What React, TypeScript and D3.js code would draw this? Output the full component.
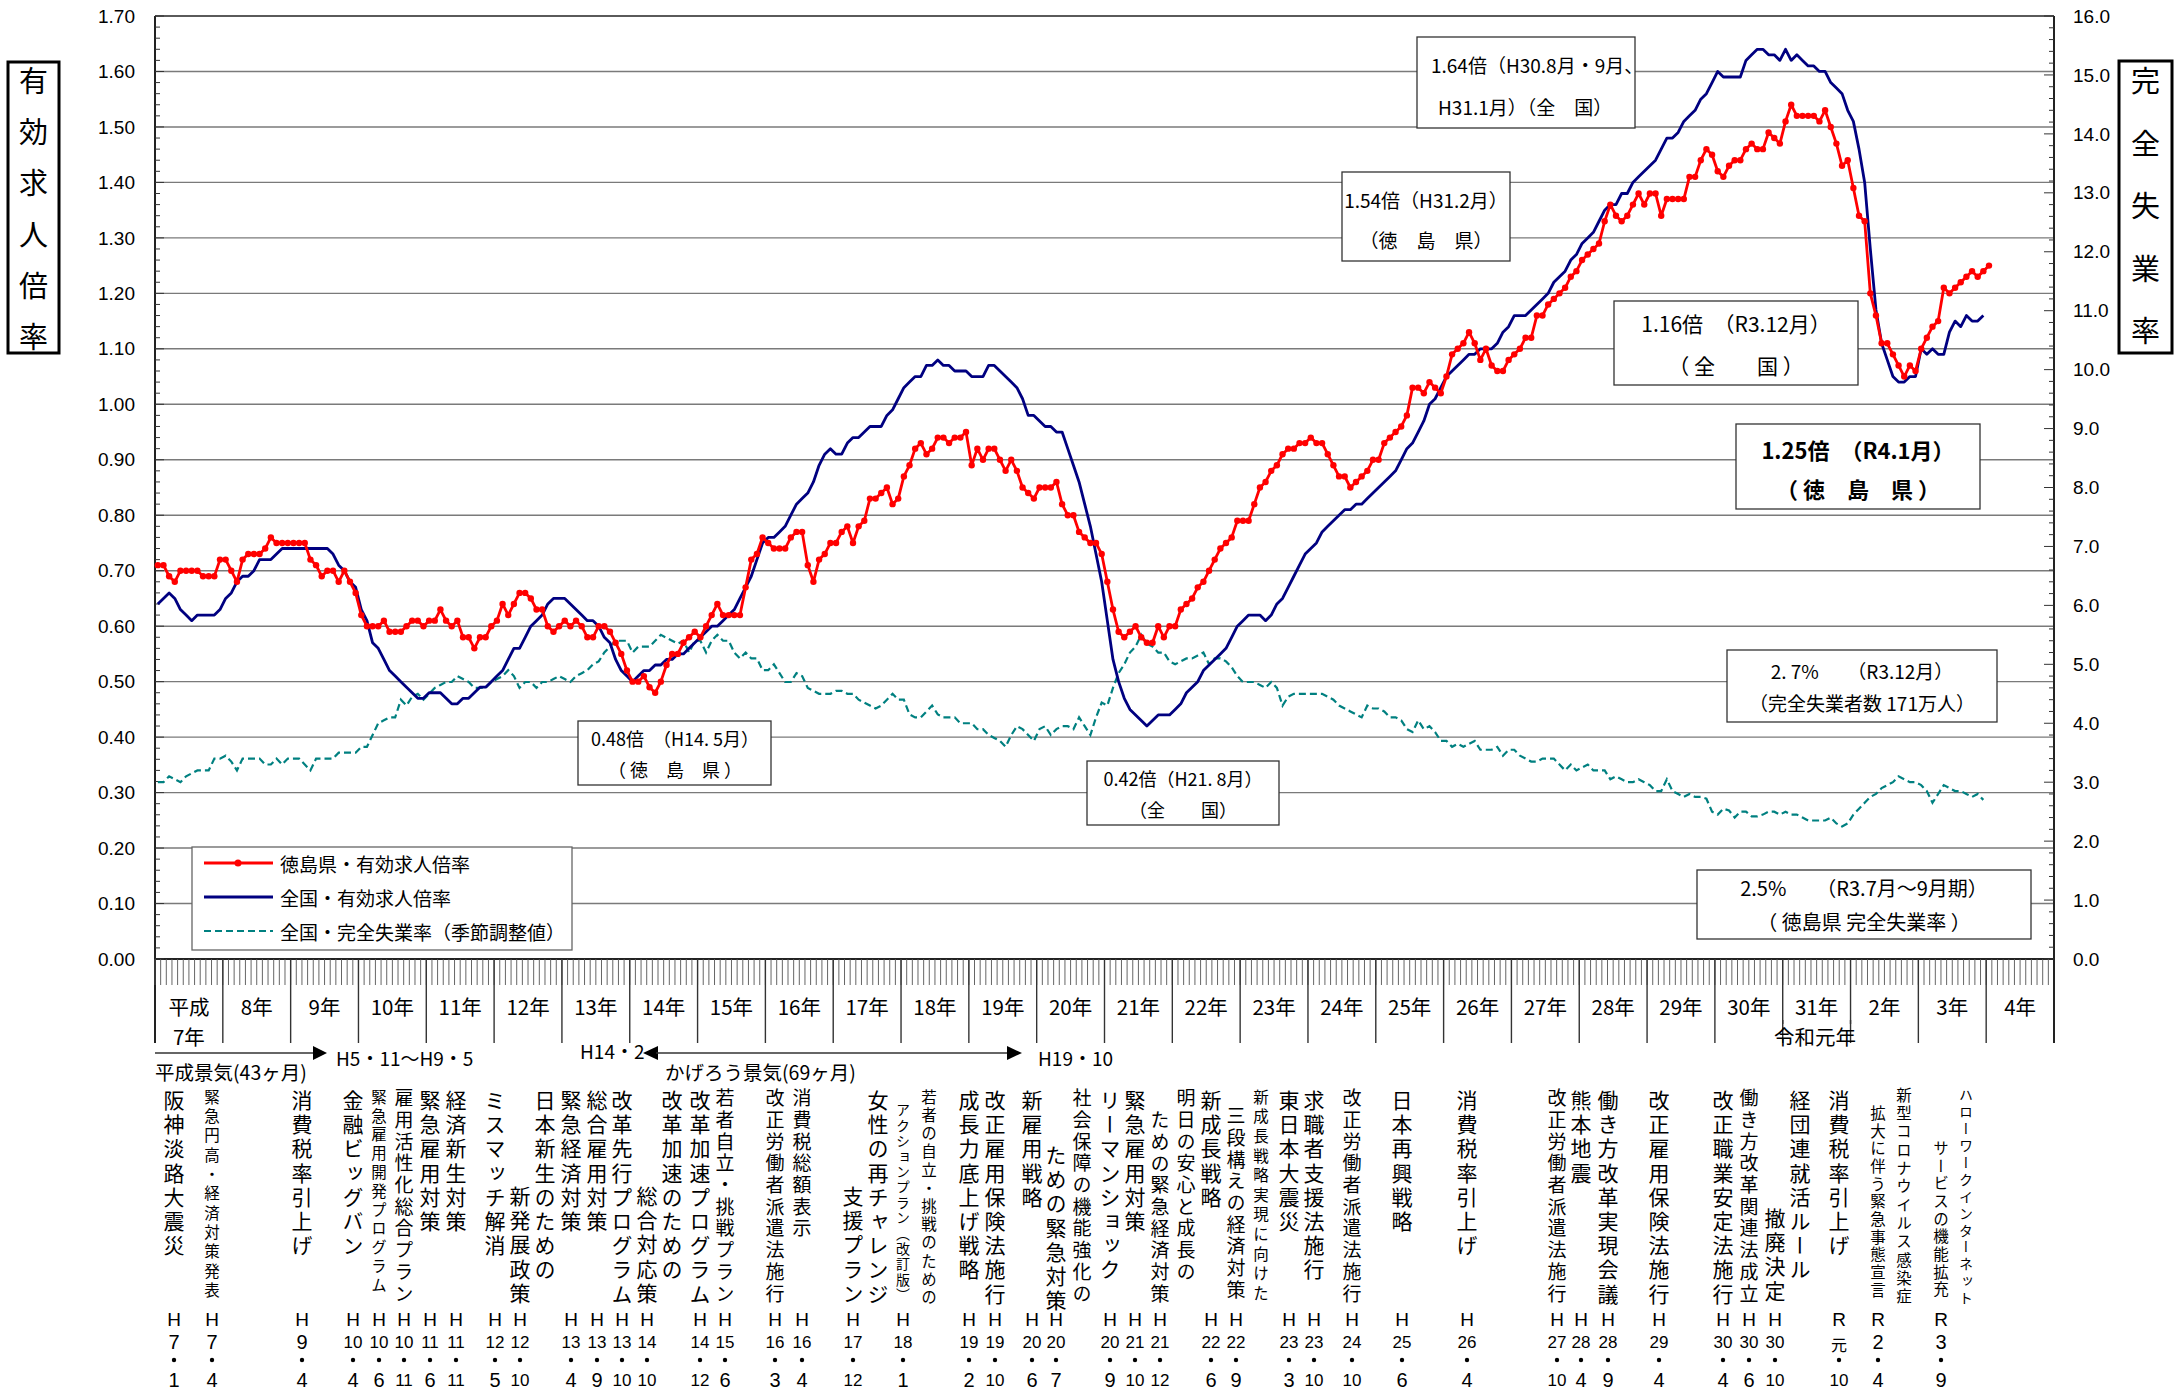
import React from 'react';
import * as d3 from 'd3';

// 有効求人倍率・完全失業率の推移 (H7.1 〜 R4.1)

const W = 2178;
const H = 1394;
const startYear = 1995;

// monthly categories, Jan 1995 .. Dec 2022
const months = d3.range(336).map((i) => `${startYear + Math.floor(i / 12)}-${String((i % 12) + 1).padStart(2, '0')}`);

// 徳島県・有効求人倍率 (1995.1 - 2022.1)
const tokushimaRatio = [
  0.71, 0.71, 0.69, 0.68, 0.70, 0.70, 0.70, 0.70, 0.69, 0.69, 0.69, 0.72,
  0.72, 0.70, 0.68, 0.72, 0.73, 0.73, 0.73, 0.74, 0.76, 0.75, 0.75, 0.75,
  0.75, 0.75, 0.75, 0.72, 0.71, 0.69, 0.70, 0.70, 0.68, 0.70, 0.68, 0.66,
  0.62, 0.60, 0.60, 0.60, 0.61, 0.59, 0.59, 0.59, 0.60, 0.61, 0.61, 0.60,
  0.61, 0.61, 0.63, 0.61, 0.60, 0.61, 0.58, 0.58, 0.56, 0.58, 0.58, 0.60,
  0.61, 0.64, 0.62, 0.64, 0.66, 0.66, 0.65, 0.63, 0.63, 0.60, 0.59, 0.60,
  0.61, 0.60, 0.61, 0.60, 0.58, 0.58, 0.60, 0.60, 0.59, 0.57, 0.55, 0.52,
  0.50, 0.50, 0.51, 0.49, 0.48, 0.50, 0.53, 0.55, 0.55, 0.57, 0.58, 0.59,
  0.58, 0.60, 0.62, 0.64, 0.62, 0.62, 0.62, 0.62, 0.67, 0.72, 0.73, 0.76,
  0.75, 0.74, 0.74, 0.74, 0.76, 0.77, 0.77, 0.71, 0.68, 0.72, 0.73, 0.75,
  0.75, 0.77, 0.78, 0.75, 0.78, 0.79, 0.83, 0.83, 0.84, 0.85, 0.82, 0.83,
  0.87, 0.89, 0.92, 0.93, 0.91, 0.92, 0.94, 0.94, 0.93, 0.94, 0.94, 0.95,
  0.89, 0.92, 0.90, 0.92, 0.92, 0.90, 0.88, 0.90, 0.88, 0.85, 0.84, 0.83,
  0.85, 0.85, 0.85, 0.86, 0.82, 0.80, 0.80, 0.77, 0.76, 0.75, 0.75, 0.73,
  0.68, 0.63, 0.59, 0.58, 0.59, 0.60, 0.58, 0.57, 0.57, 0.60, 0.58, 0.60,
  0.60, 0.63, 0.64, 0.65, 0.67, 0.68, 0.70, 0.72, 0.74, 0.75, 0.76, 0.79,
  0.79, 0.79, 0.82, 0.85, 0.86, 0.88, 0.89, 0.91, 0.92, 0.92, 0.93, 0.93,
  0.94, 0.93, 0.93, 0.91, 0.89, 0.87, 0.87, 0.85, 0.86, 0.87, 0.88, 0.90,
  0.90, 0.93, 0.94, 0.95, 0.96, 0.98, 1.03, 1.03, 1.02, 1.04, 1.03, 1.02,
  1.05, 1.09, 1.10, 1.11, 1.13, 1.11, 1.08, 1.10, 1.07, 1.06, 1.06, 1.08,
  1.09, 1.10, 1.12, 1.12, 1.16, 1.16, 1.18, 1.19, 1.20, 1.21, 1.23, 1.24,
  1.26, 1.27, 1.28, 1.29, 1.33, 1.36, 1.34, 1.33, 1.34, 1.36, 1.38, 1.36,
  1.38, 1.38, 1.34, 1.37, 1.37, 1.37, 1.37, 1.41, 1.41, 1.44, 1.46, 1.45,
  1.42, 1.41, 1.43, 1.44, 1.44, 1.46, 1.47, 1.46, 1.46, 1.49, 1.48, 1.47,
  1.51, 1.54, 1.52, 1.52, 1.52, 1.52, 1.51, 1.53, 1.50, 1.47, 1.43, 1.44,
  1.39, 1.34, 1.33, 1.20, 1.16, 1.11, 1.11, 1.09, 1.07, 1.05, 1.07, 1.06,
  1.10, 1.12, 1.14, 1.15, 1.21, 1.20, 1.21, 1.22, 1.23, 1.24, 1.23, 1.24,
  1.25,
];

// 全国・有効求人倍率 (1995.1 - 2021.12)
const nationalRatio = [
  0.64, 0.65, 0.66, 0.65, 0.63, 0.62, 0.61, 0.62, 0.62, 0.62, 0.62, 0.63,
  0.65, 0.66, 0.68, 0.69, 0.69, 0.70, 0.72, 0.72, 0.72, 0.73, 0.74, 0.74,
  0.74, 0.74, 0.74, 0.74, 0.74, 0.74, 0.74, 0.73, 0.71, 0.70, 0.68, 0.67,
  0.63, 0.61, 0.57, 0.56, 0.54, 0.52, 0.51, 0.50, 0.49, 0.48, 0.47, 0.47,
  0.48, 0.48, 0.48, 0.47, 0.46, 0.46, 0.47, 0.47, 0.48, 0.49, 0.49, 0.50,
  0.51, 0.52, 0.54, 0.56, 0.56, 0.58, 0.60, 0.61, 0.62, 0.64, 0.65, 0.65,
  0.65, 0.64, 0.63, 0.62, 0.61, 0.61, 0.60, 0.58, 0.57, 0.54, 0.52, 0.51,
  0.50, 0.51, 0.52, 0.52, 0.53, 0.53, 0.54, 0.54, 0.55, 0.55, 0.56, 0.57,
  0.58, 0.59, 0.60, 0.60, 0.61, 0.62, 0.63, 0.65, 0.67, 0.69, 0.72, 0.75,
  0.76, 0.76, 0.77, 0.78, 0.80, 0.82, 0.83, 0.84, 0.86, 0.89, 0.91, 0.92,
  0.91, 0.91, 0.93, 0.94, 0.94, 0.95, 0.96, 0.96, 0.96, 0.98, 0.99, 1.01,
  1.03, 1.04, 1.05, 1.05, 1.07, 1.07, 1.08, 1.07, 1.07, 1.06, 1.06, 1.06,
  1.05, 1.05, 1.05, 1.07, 1.07, 1.06, 1.05, 1.04, 1.03, 1.01, 0.98, 0.98,
  0.97, 0.96, 0.96, 0.95, 0.95, 0.92, 0.89, 0.86, 0.82, 0.78, 0.73, 0.68,
  0.61, 0.54, 0.50, 0.47, 0.45, 0.44, 0.43, 0.42, 0.43, 0.44, 0.44, 0.44,
  0.45, 0.46, 0.48, 0.49, 0.50, 0.52, 0.53, 0.54, 0.55, 0.56, 0.58, 0.60,
  0.61, 0.62, 0.62, 0.62, 0.61, 0.62, 0.64, 0.65, 0.67, 0.69, 0.71, 0.73,
  0.74, 0.75, 0.77, 0.78, 0.79, 0.80, 0.81, 0.81, 0.82, 0.82, 0.83, 0.84,
  0.85, 0.86, 0.87, 0.88, 0.90, 0.92, 0.93, 0.95, 0.97, 1.00, 1.01, 1.03,
  1.05, 1.06, 1.07, 1.08, 1.09, 1.09, 1.10, 1.10, 1.10, 1.11, 1.13, 1.14,
  1.16, 1.16, 1.16, 1.17, 1.18, 1.19, 1.20, 1.22, 1.23, 1.24, 1.26, 1.27,
  1.29, 1.30, 1.31, 1.33, 1.35, 1.36, 1.36, 1.38, 1.38, 1.40, 1.41, 1.42,
  1.43, 1.44, 1.46, 1.48, 1.48, 1.49, 1.51, 1.52, 1.53, 1.55, 1.56, 1.58,
  1.60, 1.59, 1.59, 1.59, 1.59, 1.62, 1.63, 1.64, 1.64, 1.63, 1.63, 1.62,
  1.64, 1.62, 1.63, 1.62, 1.61, 1.61, 1.60, 1.60, 1.58, 1.57, 1.56, 1.53,
  1.51, 1.46, 1.40, 1.28, 1.17, 1.11, 1.08, 1.05, 1.04, 1.04, 1.05, 1.05,
  1.10, 1.09, 1.10, 1.09, 1.09, 1.13, 1.15, 1.14, 1.16, 1.15, 1.15, 1.16,
];

// 全国・完全失業率 季節調整値 (1995.1 - 2021.12), right axis
const unemploymentRate = [
  3.0, 3.0, 3.1, 3.05, 3.0, 3.1, 3.15, 3.2, 3.2, 3.2, 3.4, 3.4,
  3.45, 3.35, 3.2, 3.4, 3.4, 3.4, 3.4, 3.3, 3.3, 3.4, 3.3, 3.4,
  3.4, 3.4, 3.3, 3.2, 3.4, 3.4, 3.4, 3.4, 3.5, 3.5, 3.5, 3.5,
  3.6, 3.6, 3.8, 4.0, 4.05, 4.1, 4.1, 4.4, 4.3, 4.45, 4.5, 4.4,
  4.5, 4.6, 4.65, 4.7, 4.7, 4.8, 4.75, 4.7, 4.6, 4.6, 4.6, 4.7,
  4.75, 4.8, 4.9, 4.8, 4.6, 4.7, 4.7, 4.6, 4.7, 4.7, 4.75, 4.8,
  4.75, 4.7, 4.8, 4.85, 4.9, 5.0, 5.05, 5.2, 5.3, 5.4, 5.4, 5.4,
  5.2, 5.3, 5.3, 5.3, 5.4, 5.5, 5.45, 5.4, 5.35, 5.4, 5.2, 5.4,
  5.4, 5.2, 5.4, 5.5, 5.4, 5.4, 5.2, 5.1, 5.2, 5.1, 5.1, 4.9,
  4.9, 5.0, 4.85, 4.7, 4.7, 4.85, 4.8, 4.6, 4.55, 4.5, 4.5, 4.5,
  4.55, 4.55, 4.5, 4.5, 4.4, 4.35, 4.3, 4.25, 4.3, 4.4, 4.5, 4.4,
  4.4, 4.15, 4.1, 4.1, 4.2, 4.3, 4.15, 4.1, 4.1, 4.1, 4.0, 4.0,
  4.0, 3.9, 3.9, 3.8, 3.75, 3.7, 3.6, 3.8, 3.95, 3.9, 3.8, 3.7,
  3.9, 3.95, 3.8, 3.9, 3.95, 3.95, 3.9, 4.1, 3.95, 3.8, 4.1, 4.35,
  4.3, 4.6, 4.85, 5.0, 5.2, 5.3, 5.5, 5.35, 5.3, 5.2, 5.2, 5.05,
  5.0, 5.05, 5.1, 5.1, 5.15, 5.2, 5.0, 5.1, 5.1, 5.05, 4.95, 4.8,
  4.7, 4.7, 4.7, 4.65, 4.6, 4.7, 4.6, 4.3, 4.45, 4.5, 4.5, 4.5,
  4.5, 4.5, 4.5, 4.45, 4.4, 4.3, 4.25, 4.2, 4.15, 4.1, 4.3, 4.25,
  4.25, 4.2, 4.1, 4.1, 4.05, 3.9, 3.85, 4.05, 3.9, 3.95, 3.85, 3.7,
  3.7, 3.6, 3.65, 3.6, 3.65, 3.7, 3.55, 3.55, 3.55, 3.6, 3.45, 3.55,
  3.55, 3.45, 3.4, 3.35, 3.35, 3.4, 3.4, 3.4, 3.3, 3.2, 3.3, 3.2,
  3.25, 3.3, 3.2, 3.2, 3.2, 3.05, 3.1, 3.05, 3.0, 3.0, 3.05, 3.0,
  2.95, 2.85, 2.85, 3.05, 2.85, 2.8, 2.75, 2.8, 2.75, 2.75, 2.72, 2.5,
  2.45, 2.55, 2.52, 2.4, 2.5, 2.5, 2.42, 2.42, 2.45, 2.5, 2.5, 2.45,
  2.5, 2.45, 2.45, 2.4, 2.35, 2.35, 2.35, 2.35, 2.4, 2.3, 2.25, 2.3,
  2.45, 2.55, 2.65, 2.75, 2.8, 2.9, 2.95, 3.0, 3.1, 3.05, 3.0, 3.0,
  2.95, 2.85, 2.65, 2.8, 2.95, 2.9, 2.85, 2.85, 2.8, 2.75, 2.8, 2.7,
];

const yearLabels = [
  '平成', '8年', '9年', '10年', '11年', '12年', '13年', '14年', '15年', '16年', '17年', '18年', '19年',
  '20年', '21年', '22年', '23年', '24年', '25年', '26年', '27年', '28年', '29年', '30年', '31年',
  '2年', '3年', '4年',
];

const leftTicks = d3.range(0, 18).map((i) => i / 10);
const rightTicks = d3.range(0, 17);

// 出来事 (vertical text). cols: columns of one label, first one carries the date
type Col = { x: number; text: string; size: string; y0?: number; step?: number };
type Ev = { cols: Col[]; date: [string, string, string] };
const events: Ev[] = [
  { cols: [{ x: 174, text: '阪神淡路大震災', size: 'L' }], date: ['H', '7', '1'] },
  { cols: [{ x: 212, text: '緊急円高・経済対策発表', size: 'S', step: 19.3 }], date: ['H', '7', '4'] },
  { cols: [{ x: 302, text: '消費税率引上げ', size: 'L' }], date: ['H', '9', '4'] },
  { cols: [{ x: 353, text: '金融ビッグバン', size: 'L' }], date: ['H', '10', '4'] },
  { cols: [{ x: 379, text: '緊急雇用開発プログラム', size: 'S', step: 18.8 }], date: ['H', '10', '6'] },
  { cols: [{ x: 404, text: '雇用活性化総合プラン', size: 'M' }], date: ['H', '10', '11'] },
  { cols: [{ x: 430, text: '緊急雇用対策', size: 'L' }], date: ['H', '11', '6'] },
  { cols: [{ x: 456, text: '経済新生対策', size: 'L' }], date: ['H', '11', '11'] },
  { cols: [{ x: 495, text: 'ミスマッチ解消', size: 'L' }], date: ['H', '12', '5'] },
  { cols: [{ x: 520, text: '新発展政策', size: 'L', y0: 1196 }, { x: 545, text: '日本新生のための', size: 'L' }], date: ['H', '12', '10'] },
  { cols: [{ x: 571, text: '緊急経済対策', size: 'L' }], date: ['H', '13', '4'] },
  { cols: [{ x: 597, text: '総合雇用対策', size: 'L' }], date: ['H', '13', '9'] },
  { cols: [{ x: 622, text: '改革先行プログラム', size: 'L' }], date: ['H', '13', '10'] },
  { cols: [{ x: 647, text: '総合対応策', size: 'L', y0: 1196 }, { x: 672, text: '改革加速のための', size: 'L' }], date: ['H', '14', '10'] },
  { cols: [{ x: 700, text: '改革加速プログラム', size: 'L' }], date: ['H', '14', '12'] },
  { cols: [{ x: 725, text: '若者自立・挑戦プラン', size: 'M' }], date: ['H', '15', '6'] },
  { cols: [{ x: 775, text: '改正労働者派遣法施行', size: 'M' }], date: ['H', '16', '3'] },
  { cols: [{ x: 802, text: '消費税総額表示', size: 'M' }], date: ['H', '16', '4'] },
  { cols: [{ x: 853, text: '支援プラン', size: 'L', y0: 1196 }, { x: 878, text: '女性の再チャレンジ', size: 'L' }], date: ['H', '17', '12'] },
  { cols: [{ x: 903, text: 'アクションプラン（改訂版）', size: 'XS', y0: 1110, step: 15.4 }, { x: 929, text: '若者の自立・挑戦のための', size: 'S', step: 18.2 }], date: ['H', '18', '1'] },
  { cols: [{ x: 969, text: '成長力底上げ戦略', size: 'L' }], date: ['H', '19', '2'] },
  { cols: [{ x: 995, text: '改正雇用保険法施行', size: 'L' }], date: ['H', '19', '10'] },
  { cols: [{ x: 1032, text: '新雇用戦略', size: 'L' }], date: ['H', '20', '6'] },
  { cols: [{ x: 1056, text: 'ための緊急対策', size: 'L', y0: 1155 }, { x: 1082, text: '社会保障の機能強化の', size: 'M' }], date: ['H', '20', '7'] },
  { cols: [{ x: 1110, text: 'リーマンショック', size: 'L' }], date: ['H', '20', '9'] },
  { cols: [{ x: 1135, text: '緊急雇用対策', size: 'L' }], date: ['H', '21', '10'] },
  { cols: [{ x: 1160, text: 'ための緊急経済対策', size: 'M', y0: 1120 }, { x: 1186, text: '明日の安心と成長の', size: 'M' }], date: ['H', '21', '12'] },
  { cols: [{ x: 1211, text: '新成長戦略', size: 'L' }], date: ['H', '22', '6'] },
  { cols: [{ x: 1236, text: '三段構えの経済対策', size: 'M', y0: 1116 }, { x: 1261, text: '新成長戦略実現に向けた', size: 'S', step: 19.6 }], date: ['H', '22', '9'] },
  { cols: [{ x: 1289, text: '東日本大震災', size: 'L' }], date: ['H', '23', '3'] },
  { cols: [{ x: 1314, text: '求職者支援法施行', size: 'L' }], date: ['H', '23', '10'] },
  { cols: [{ x: 1352, text: '改正労働者派遣法施行', size: 'M' }], date: ['H', '24', '10'] },
  { cols: [{ x: 1402, text: '日本再興戦略', size: 'L' }], date: ['H', '25', '6'] },
  { cols: [{ x: 1467, text: '消費税率引上げ', size: 'L' }], date: ['H', '26', '4'] },
  { cols: [{ x: 1557, text: '改正労働者派遣法施行', size: 'M' }], date: ['H', '27', '10'] },
  { cols: [{ x: 1581, text: '熊本地震', size: 'L' }], date: ['H', '28', '4'] },
  { cols: [{ x: 1608, text: '働き方改革実現会議', size: 'L' }], date: ['H', '28', '9'] },
  { cols: [{ x: 1659, text: '改正雇用保険法施行', size: 'L' }], date: ['H', '29', '4'] },
  { cols: [{ x: 1723, text: '改正職業安定法施行', size: 'L' }], date: ['H', '30', '4'] },
  { cols: [{ x: 1749, text: '働き方改革関連法成立', size: 'M' }], date: ['H', '30', '6'] },
  { cols: [{ x: 1775, text: '撤廃決定', size: 'L', y0: 1218 }, { x: 1800, text: '経団連就活ルール', size: 'L' }], date: ['H', '30', '10'] },
  { cols: [{ x: 1839, text: '消費税率引上げ', size: 'L' }], date: ['R', '元', '10'] },
  { cols: [{ x: 1878, text: '拡大に伴う緊急事態宣言', size: 'S', y0: 1113, step: 17.7 }, { x: 1904, text: '新型コロナウイルス感染症', size: 'S', y0: 1095 }], date: ['R', '2', '4'] },
  { cols: [{ x: 1941, text: 'サービスの機能拡充', size: 'S', y0: 1148, step: 17.7 }, { x: 1966, text: 'ハローワークインターネット', size: 'XS', y0: 1095, step: 16.9 }], date: ['R', '3', '9'] },
];

const sizes: Record<string, { font: number; step: number; y0: number }> = {
  L: { font: 21, step: 24.2, y0: 1100 },
  M: { font: 19, step: 21.7, y0: 1098 },
  S: { font: 15.5, step: 18.3, y0: 1097 },
  XS: { font: 14, step: 16.9, y0: 1097 },
};

const JP = '"Noto Sans CJK JP", "Noto Sans", sans-serif';
const NUM = '"Liberation Sans", Arial, sans-serif';
const NARROW = '"Liberation Sans Narrow", "Liberation Sans", Arial, sans-serif';

const PL = 155;
const PR = 2054;
const PT = 16;
const PB = 959;

// a top-to-bottom column, one vertical-mode text per character; y0 = centre of first char
const VText = ({ x, y0, step, size, text }: { x: number; y0: number; step: number; size: number; text: string }) => (
  <g>
    {Array.from(text).map((ch, j) => (
      <text key={j} x={x} y={y0 + j * step - size / 2} fontSize={size} style={{ writingMode: 'vertical-rl' }}>
        {ch}
      </text>
    ))}
  </g>
);

const App = () => {
  const x = d3.scaleBand<string>().domain(months).range([PL, PR]);
  const bw = x.bandwidth();
  const cx = (i: number) => (x(months[i]) ?? 0) + bw / 2;
  const y = d3.scaleLinear().domain([0, 1.7]).range([PB, PT]);
  const yR = d3.scaleLinear().domain([0, 16]).range([PB, PT]);

  const lineL = d3.line<number>().x((_, i) => cx(i)).y((d) => y(d));
  const lineR = d3.line<number>().x((_, i) => cx(i)).y((d) => yR(d));

  const boxes = [
    { x: 1417, y: 37, w: 218, h: 91, lines: [{ t: '1.64倍（H30.8月・9月、', x: 1431, y: 64, a: 'start' }, { t: 'H31.1月）（全　国）', x: 1438, y: 106, a: 'start' }], fs: 19, bold: false },
    { x: 1342, y: 172, w: 168, h: 89, lines: [{ t: '1.54倍（H31.2月）', x: 1426, y: 199, a: 'middle' }, { t: '（徳　島　県）', x: 1426, y: 239, a: 'middle' }], fs: 19, bold: false },
    { x: 1614, y: 301, w: 244, h: 84, lines: [{ t: '1.16倍　（R3.12月）', x: 1736, y: 323, a: 'middle' }, { t: '（ 全　　国 ）', x: 1736, y: 365, a: 'middle' }], fs: 21, bold: false },
    { x: 1736, y: 424, w: 244, h: 85, lines: [{ t: '1.25倍　（R4.1月）', x: 1858, y: 449, a: 'middle' }, { t: '（ 徳　島　県 ）', x: 1858, y: 488, a: 'middle' }], fs: 22, bold: true },
    { x: 1727, y: 650, w: 270, h: 72, lines: [{ t: '2. 7%　　（R3.12月）', x: 1862, y: 670, a: 'middle' }, { t: '（完全失業者数 171万人）', x: 1862, y: 702, a: 'middle' }], fs: 19, bold: false },
    { x: 1697, y: 870, w: 334, h: 69, lines: [{ t: '2.5%　　（R3.7月〜9月期）', x: 1864, y: 887, a: 'middle' }, { t: '（ 徳島県 完全失業率 ）', x: 1864, y: 921, a: 'middle' }], fs: 20, bold: false },
    { x: 578, y: 721, w: 193, h: 64, lines: [{ t: '0.48倍　（H14. 5月）', x: 675, y: 738, a: 'middle' }, { t: '（ 徳　島　県 ）', x: 675, y: 769, a: 'middle' }], fs: 18, bold: false },
    { x: 1087, y: 761, w: 192, h: 64, lines: [{ t: '0.42倍（H21. 8月）', x: 1183, y: 778, a: 'middle' }, { t: '（全　　国）', x: 1183, y: 809, a: 'middle' }], fs: 18, bold: false },
  ];

  return (
    <svg width={W} height={H} style={{ position: 'absolute', left: 0, top: 0, background: '#fff' }} fontFamily={JP}>
      <rect x={0} y={0} width={W} height={H} fill="#fff" />

      {/* gridlines */}
      {leftTicks.filter((t) => t > 0).map((t) => (
        <line key={t} x1={PL} x2={PR} y1={y(t)} y2={y(t)} stroke="#7a7a7a" strokeWidth={1.4} />
      ))}
      <line x1={PL} x2={PR} y1={PT} y2={PT} stroke="#444" strokeWidth={1.5} />
      <line x1={PL} x2={PR} y1={PB} y2={PB} stroke="#222" strokeWidth={1.8} />

      {/* axes */}
      <line x1={PL} x2={PL} y1={PT} y2={1043} stroke="#222" strokeWidth={2} />
      <line x1={PR} x2={PR} y1={PT} y2={1043} stroke="#222" strokeWidth={2} />
      {d3.range(0, 86).map((k) => (
        <line key={'lm' + k} x1={PL} x2={PL + (k % 5 === 0 ? 9 : 5)} y1={y(k * 0.02)} y2={y(k * 0.02)} stroke="#333" strokeWidth={1} />
      ))}
      {d3.range(0, 81).map((k) => (
        <line key={'rm' + k} x1={PR - (k % 5 === 0 ? 10 : 5)} x2={PR} y1={yR(k * 0.2)} y2={yR(k * 0.2)} stroke="#333" strokeWidth={1} />
      ))}
      {leftTicks.map((t) => (
        <text key={'lt' + t} x={135} y={y(t)} dy="0.35em" textAnchor="end" fontFamily={NUM} fontSize={19}>
          {t.toFixed(2)}
        </text>
      ))}
      {rightTicks.map((t) => (
        <text key={'rt' + t} x={2073} y={yR(t)} dy="0.35em" textAnchor="start" fontFamily={NUM} fontSize={19}>
          {t.toFixed(1)}
        </text>
      ))}

      {/* axis titles */}
      <rect x={8} y={62} width={51} height={291} fill="#fff" stroke="#000" strokeWidth={3} />
      <VText x={33.5} y0={81} step={51.2} size={29} text="有効求人倍率" />
      <rect x={2119} y={61} width={53} height={292} fill="#fff" stroke="#000" strokeWidth={3} />
      <VText x={2145.5} y0={81} step={62.5} size={29} text="完全失業率" />

      {/* month ticks and year cells */}
      {months.map((m) => (
        <line key={'mt' + m} x1={x(m)} x2={x(m)} y1={PB} y2={985} stroke="#555" strokeWidth={0.9} />
      ))}
      {d3.range(1, 28).map((k) => (
        <line key={'yb' + k} x1={x(months[k * 12])} x2={x(months[k * 12])} y1={PB} y2={1043} stroke="#333" strokeWidth={1.4} />
      ))}
      {yearLabels.map((lab, k) => {
        const xc = (x(months[k * 12])! + x(months[k * 12 + 11])! + bw) / 2;
        return (
          <text key={'yl' + k} x={xc} y={1006} fontSize={20.5} textAnchor="middle" dominantBaseline="central">{lab}</text>
        );
      })}
      <text x={(x(months[0])! + x(months[11])! + bw) / 2} y={1036} fontSize={20.5} textAnchor="middle" dominantBaseline="central">7年</text>
      <rect x={1774} y={1024} width={82} height={22} fill="#fff" />
      <line x1={x(months[288])} x2={x(months[288])} y1={1020} y2={1043} stroke="#333" strokeWidth={1.4} />
      <line x1={x(months[300])} x2={x(months[300])} y1={1020} y2={1043} stroke="#333" strokeWidth={1.4} />
      <text x={1815} y={1036} fontSize={20.5} textAnchor="middle" dominantBaseline="central">令和元年</text>

      {/* 景気 arrows */}
      <line x1={PL} x2={315} y1={1053} y2={1053} stroke="#333" strokeWidth={1.5} />
      <polygon points="313,1046 327,1053 313,1060" fill="#000" />
      <text x={336} y={1057} fontSize={19} dominantBaseline="central">H5・11〜H9・5</text>
      <text x={155} y={1071} fontSize={19.5} dominantBaseline="central">平成景気(43ヶ月)</text>
      <text x={580} y={1050} fontSize={19} dominantBaseline="central">H14・2</text>
      <polygon points="643,1053 658,1046 658,1060" fill="#000" />
      <line x1={656} x2={1010} y1={1053} y2={1053} stroke="#333" strokeWidth={1.5} />
      <polygon points="1007,1046 1022,1053 1007,1060" fill="#000" />
      <text x={1038} y={1057} fontSize={19} dominantBaseline="central">H19・10</text>
      <text x={665} y={1071} fontSize={19.5} dominantBaseline="central">かげろう景気(69ヶ月)</text>

      {/* events */}
      {events.map((ev, k) => {
        const dx = ev.cols[0].x;
        const [era, yr, mo] = ev.date;
        return (
          <g key={'ev' + k}>
            {ev.cols.map((c, j) => {
              const s = sizes[c.size];
              return <VText key={j} x={c.x} y0={c.y0 ?? s.y0} step={c.step ?? s.step} size={s.font} text={c.text} />;
            })}
            <text x={dx} y={1319} fontSize={19} textAnchor="middle" dominantBaseline="central" fontFamily={NUM}>{era}</text>
            <text
              x={dx}
              y={yr === '元' ? 1344 : 1342}
              fontSize={yr === '元' ? 16 : yr.length > 1 ? 17 : 20}
              textAnchor="middle"
              dominantBaseline="central"
              fontFamily={yr === '元' ? JP : NARROW}
            >
              {yr}
            </text>
            <circle cx={dx} cy={1360} r={2.2} fill="#000" />
            <text x={dx} y={1380} fontSize={mo.length > 1 ? 17 : 20} textAnchor="middle" dominantBaseline="central" fontFamily={NARROW}>{mo}</text>
          </g>
        );
      })}

      {/* annotation boxes */}
      {boxes.map((b, k) => (
        <g key={'bx' + k}>
          <rect x={b.x} y={b.y} width={b.w} height={b.h} fill="#fff" stroke="#333" strokeWidth={1.3} />
          {b.lines.map((l, j) => (
            <text key={j} x={l.x} y={l.y} fontSize={b.fs} fontWeight={b.bold ? 700 : 400} textAnchor={l.a} dominantBaseline="central" xmlSpace="preserve">
              {l.t}
            </text>
          ))}
        </g>
      ))}

      {/* legend */}
      <rect x={192} y={847} width={380} height={103} fill="#fff" stroke="#666" strokeWidth={1.3} />
      <line x1={204} x2={273} y1={863} y2={863} stroke="#ff0000" strokeWidth={2.8} />
      <circle cx={238} cy={863} r={3.5} fill="#ff0000" />
      <text x={280} y={863} fontSize={19} dominantBaseline="central">徳島県・有効求人倍率</text>
      <line x1={204} x2={273} y1={897} y2={897} stroke="#000080" strokeWidth={2.8} />
      <text x={280} y={897} fontSize={19} dominantBaseline="central">全国・有効求人倍率</text>
      <line x1={204} x2={273} y1={931} y2={931} stroke="#008080" strokeWidth={2.2} strokeDasharray="7 4" />
      <text x={280} y={931} fontSize={19} dominantBaseline="central">全国・完全失業率（季節調整値）</text>

      {/* series */}
      <path d={lineR(unemploymentRate) ?? ''} fill="none" stroke="#008080" strokeWidth={2.2} strokeDasharray="7 4" />
      <path d={lineL(nationalRatio) ?? ''} fill="none" stroke="#000080" strokeWidth={2.8} strokeLinejoin="round" />
      <path d={lineL(tokushimaRatio) ?? ''} fill="none" stroke="#ff0000" strokeWidth={2.8} strokeLinejoin="round" />
      {tokushimaRatio.map((v, i) => (
        <circle key={'p' + i} cx={cx(i)} cy={y(v)} r={3.2} fill="#ff0000" />
      ))}
    </svg>
  );
};

export default App;
